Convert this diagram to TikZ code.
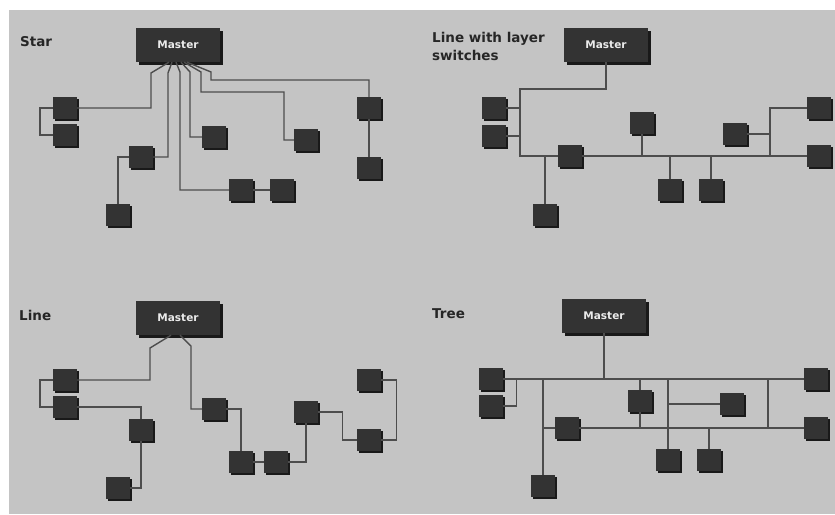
\documentclass[tikz,border=0pt]{standalone}
\usepackage{fontspec}
\setmainfont{DejaVu Sans}
\usetikzlibrary{shadows}
\definecolor{panelgray}{HTML}{C4C4C4}
\definecolor{boxgray}{HTML}{333333}
\definecolor{wiregray}{HTML}{4D4D4D}

\begin{document}
\begin{tikzpicture}[x=1pt, y=-1pt]
        \tikzstyle{master} = [fill=boxgray, minimum width=84pt, minimum height=34pt, inner sep=0pt, text=white!92!black, font=\bfseries\fontsize{10.5}{12}\selectfont, drop shadow={shadow xshift=2.5pt, shadow yshift=-2.5pt, fill=black!90, opacity=1}]
        \tikzstyle{slave} = [fill=boxgray, minimum width=24pt, minimum height=22pt, inner sep=0pt, drop shadow={shadow xshift=2pt, shadow yshift=-2pt, fill=black!90, opacity=1}]
        \tikzstyle{wire} = [draw=wiregray, line width=1.4pt]
        \tikzstyle{title} = [anchor=west, inner sep=0pt, text=black!85, align=left, font=\bfseries\fontsize{13.5}{18}\selectfont]
        \useasboundingbox (0,0) rectangle (835,514);
        \fill[white] (0,0) rectangle (835,514);
        \fill[panelgray] (9,10) rectangle (835,514);
        % star
        \node[title] (tstar) at (20,42) {Star};
        \node[master] (ms) at (178,45) {Master};
        \node[slave] (s1) at (65,108) {};
        \node[slave] (s2) at (65,135) {};
        \node[slave] (s3) at (141,157) {};
        \node[slave] (s4) at (118,215) {};
        \node[slave] (s5) at (214,137) {};
        \node[slave] (s6) at (241,190) {};
        \node[slave] (s7) at (282,190) {};
        \node[slave] (s8) at (306,140) {};
        \node[slave] (s9) at (369,108) {};
        \node[slave] (s10) at (369,168) {};
        \draw[wire] ([xshift=-9pt]ms.south) -- (151,73) |- (s1.east);
        \draw[wire] ([xshift=-6pt]ms.south) -- (168,73) |- (s3.east);
        \draw[wire] ([xshift=-2pt]ms.south) -- (180,72) |- (s6.west);
        \draw[wire] ([xshift=3pt]ms.south) -- (190,72) |- (s5.west);
        \draw[wire] ([xshift=6pt]ms.south) -- (201,72) |- (284,92) |- (s8.west);
        \draw[wire] ([xshift=9pt]ms.south) -- (211,72) -- (211,80) -| (s9.north);
        \draw[wire] (s1.west) -- ++(-13,0) |- (s2.west);
        \draw[wire] (s3.west) -| (s4.north);
        \draw[wire] (s6) -- (s7);
        \draw[wire] (s9) -- (s10);
        % line with layer switches
        \node[title] (tlayer) at (432,46) {Line with layer\\switches};
        \node[master] (mw) at (606,45) {Master};
        \node[slave] (w1) at (494,108) {};
        \node[slave] (w2) at (494,136) {};
        \node[slave] (w3) at (570,156) {};
        \node[slave] (w4) at (545,215) {};
        \node[slave] (w5) at (642,123) {};
        \node[slave] (w6) at (670,190) {};
        \node[slave] (w7) at (711,190) {};
        \node[slave] (w8) at (735,134) {};
        \node[slave] (w9) at (819,108) {};
        \node[slave] (w10) at (819,156) {};
        \coordinate (wtop) at (520,89);
        \coordinate (wv) at (770,156);
        \draw[wire] (mw.south) |- (wtop) -- (wtop |- w3) -- (w3.west);
        \draw[wire] (w3.east) -- (w10.west);
        \draw[wire] (w1.east) -- (w1.east -| wtop);
        \draw[wire] (w2.east) -- (w2.east -| wtop);
        \draw[wire] (w4.north) -- (w4.north |- w3);
        \draw[wire] (w5.south) -- (w5.south |- w3);
        \draw[wire] (w6.north) -- (w6.north |- w3);
        \draw[wire] (w7.north) -- (w7.north |- w3);
        \draw[wire] (w8.east) -- (w8.east -| wv);
        \draw[wire] (w9.west) -| (wv);
        % line
        \node[title] (tline) at (19,315) {Line};
        \node[master] (ml) at (178,318) {Master};
        \node[slave] (l1) at (65,380) {};
        \node[slave] (l2) at (65,407) {};
        \node[slave] (l3) at (141,430) {};
        \node[slave] (l4) at (118,488) {};
        \node[slave] (l5) at (214,409) {};
        \node[slave] (l6) at (241,462) {};
        \node[slave] (l7) at (276,462) {};
        \node[slave] (l8) at (306,412) {};
        \node[slave] (l9) at (369,380) {};
        \node[slave] (l10) at (369,440) {};
        \draw[wire] ([xshift=-7pt]ml.south) -- (150,348) |- (l1.east);
        \draw[wire] ([xshift=2pt]ml.south) -- (191,346) |- (l5.west);
        \draw[wire] (l1.west) -- ++(-13,0) |- (l2.west);
        \draw[wire] (l2.east) -| (l3.north);
        \draw[wire] (l3.south) |- (l4.east);
        \draw[wire] (l5.east) -| (l6.north);
        \draw[wire] (l6) -- (l7);
        \draw[wire] (l7.east) -| (l8.south);
        \draw[wire] (l8.east) -- ++(24,0) |- (l10.west);
        \draw[wire] (l9.east) -- ++(15,0) |- (l10.east);
        % tree
        \node[title] (ttree) at (432,314) {Tree};
        \node[master] (mt) at (604,316) {Master};
        \node[slave] (t1) at (491,379) {};
        \node[slave] (t2) at (491,406) {};
        \node[slave] (t3) at (567,428) {};
        \node[slave] (t4) at (543,486) {};
        \node[slave] (t5) at (640,401) {};
        \node[slave] (t6) at (732,404) {};
        \node[slave] (t7) at (668,460) {};
        \node[slave] (t8) at (709,460) {};
        \node[slave] (t9) at (816,379) {};
        \node[slave] (t10) at (816,428) {};
        \coordinate (tl) at (543,428);
        \coordinate (tr) at (768,428);
        \draw[wire] (mt.south) -- (mt.south |- t1);
        \draw[wire] (t1.east) -- (t9.west);
        \draw[wire] (t2.east) -| ([xshift=13pt]t1.east);
        \draw[wire] (t4.north) -- (t4.north |- t1);
        \draw[wire] (tl) -- (t3.west);
        \draw[wire] (t3.east) -- (t10.west);
        \draw[wire] (t5.north) -- (t5.north |- t1);
        \draw[wire] (t5.south) -- (t5.south |- t3);
        \draw[wire] (t7.north) -- (t7.north |- t1);
        \draw[wire] (t6.west) -- (t6.west -| t7);
        \draw[wire] (t8.north) -- (t8.north |- t3);
        \draw[wire] (tr) -- (tr |- t1);
      \end{tikzpicture}
\end{document}
